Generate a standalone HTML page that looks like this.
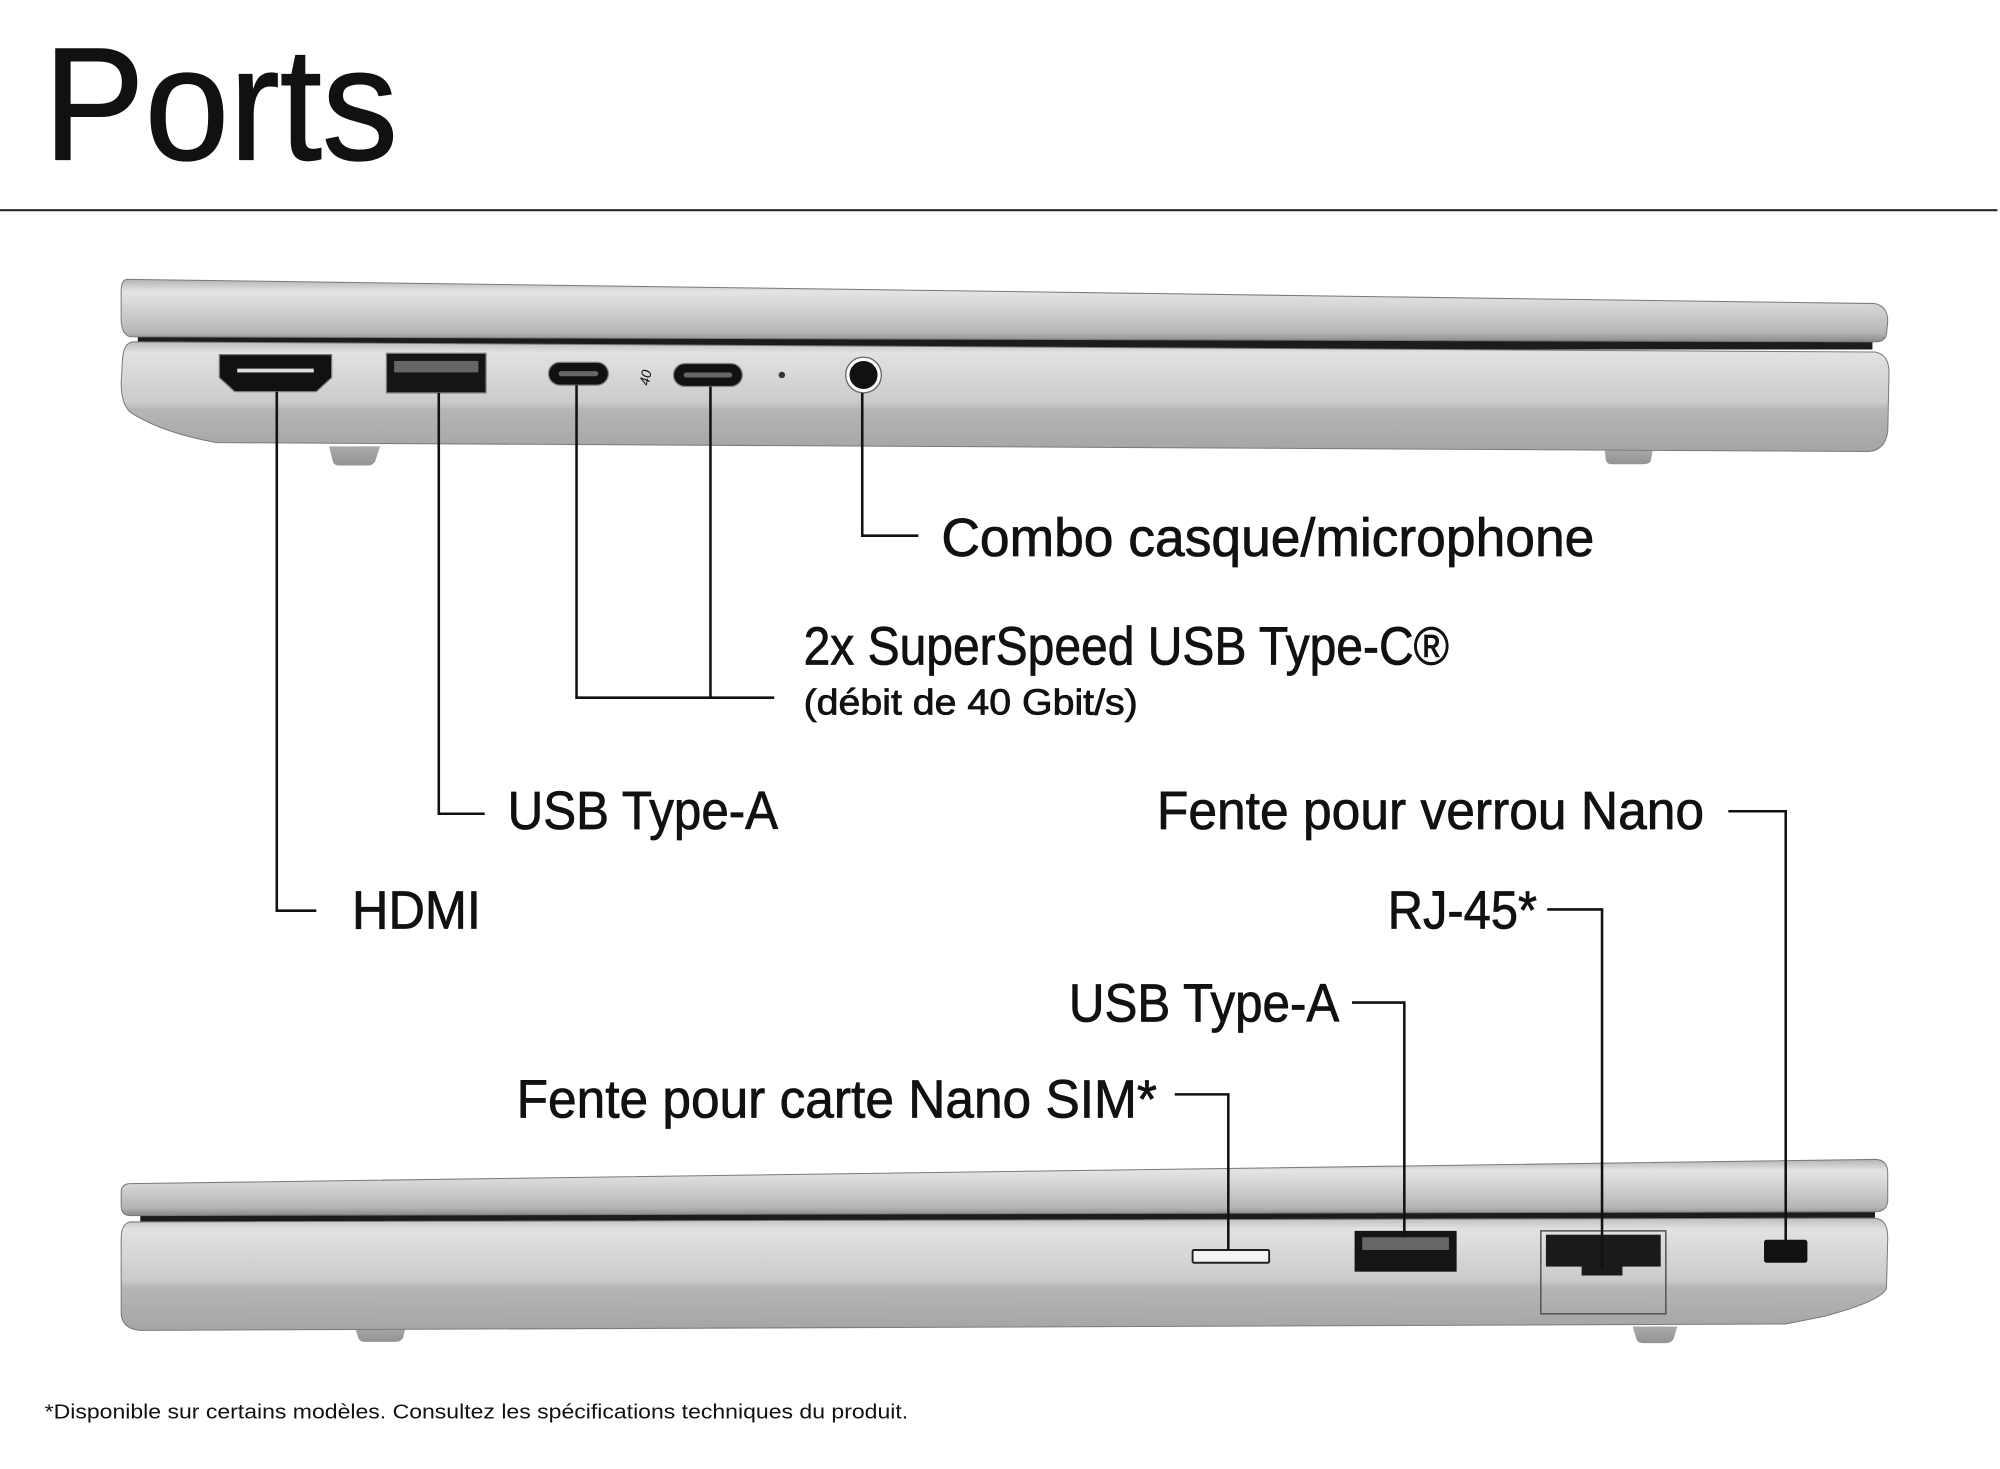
<!DOCTYPE html>
<html><head><meta charset="utf-8"><style>
html,body{margin:0;padding:0;background:#fff}
svg{display:block}
text{font-family:"Liberation Sans",sans-serif;fill:#111}
</style></head><body>
<svg width="2000" height="1469" viewBox="0 0 1568 1151.7" xmlns="http://www.w3.org/2000/svg">
<defs>
<linearGradient id="lid" x1="0" y1="0" x2="0" y2="1">
<stop offset="0" stop-color="#b4b4b4"/><stop offset="0.2" stop-color="#e4e4e4"/><stop offset="0.55" stop-color="#cdcdcd"/><stop offset="0.85" stop-color="#b6b6b6"/><stop offset="1" stop-color="#8a8a8a"/></linearGradient>
<linearGradient id="base" x1="0" y1="0" x2="0" y2="1">
<stop offset="0" stop-color="#bdbdbd"/><stop offset="0.1" stop-color="#e2e2e2"/><stop offset="0.55" stop-color="#cbcbcb"/><stop offset="0.62" stop-color="#b5b5b5"/><stop offset="1" stop-color="#a5a5a5"/></linearGradient>
<linearGradient id="foot" x1="0" y1="0" x2="0" y2="1"><stop offset="0" stop-color="#aaa"/><stop offset="1" stop-color="#939393"/></linearGradient>
</defs>
<rect width="1568" height="1152" fill="#fff"/>
<text x="34" y="125" font-size="126" textLength="278" lengthAdjust="spacingAndGlyphs" stroke="#111" stroke-width="1">Ports</text>
<rect x="0" y="164" width="1566" height="1.6" fill="#222"/>

<!-- top laptop -->
<g>
<path d="M258 350 L298 350 L294 362 Q292 365 288 365 L266 365 Q262 365 261 362 Z" fill="url(#foot)"/>
<path d="M1258 352 L1296 352 L1294 362 Q1292 364 1288 364 L1264 364 Q1260 364 1259 361 Z" fill="url(#foot)"/>
<rect x="108" y="262" width="1360" height="12" fill="#1c1c1c"/>
<path d="M105 268 L1470 276 Q1481 278 1481 292 L1480 338 Q1478 353 1465 354 L170 347 Q130 340 105 325 Q95 320 95 300 L96 282 Q97 268 105 268 Z" fill="url(#base)" stroke="#7a7a7a" stroke-width="0.8"/>
<path d="M100 219 L1470 238 Q1480 240 1480 252 L1479 262 Q1478 268 1470 268 L102 264 Q95 262 95 250 L95 228 Q95 219 100 219 Z" fill="url(#lid)" stroke="#7a7a7a" stroke-width="0.8"/>
<path d="M172 278 L260 278 L260 296 L248 307 L184 307 L172 296 Z" fill="#111" stroke="#777" stroke-width="1"/>
<rect x="186" y="289" width="60" height="3" fill="#ddd"/>
<rect x="303" y="277" width="78" height="31" fill="#151515" stroke="#777" stroke-width="1"/>
<rect x="309" y="283" width="66" height="9" fill="#666"/>
<rect x="430" y="284" width="47" height="18" rx="9" fill="#111" stroke="#888"/>
<rect x="438" y="291" width="31" height="4" rx="2" fill="#666"/>
<text x="498" y="300" font-size="11" font-style="italic" fill="#555" transform="rotate(-80 505 295)">40</text>
<rect x="528" y="285" width="54" height="18" rx="9" fill="#111" stroke="#888"/>
<rect x="536" y="292" width="38" height="4" rx="2" fill="#666"/>
<circle cx="613" cy="294" r="2.5" fill="#333"/>
<circle cx="677" cy="294" r="14" fill="#fafafa" stroke="#666"/>
<circle cx="677" cy="294" r="11" fill="#111"/>
</g>

<!-- bottom laptop -->
<g>
<path d="M278 1040 L318 1040 L316 1049 Q314 1052 310 1052 L286 1052 Q282 1052 281 1049 Z" fill="url(#foot)"/>
<path d="M1280 1040 L1315 1040 L1312 1050 Q1310 1053 1306 1053 L1288 1053 Q1284 1053 1283 1050 Z" fill="url(#foot)"/>
<rect x="110" y="948" width="1360" height="12" fill="#1c1c1c"/>
<path d="M102 958 L1470 955 Q1480 956 1480 970 L1479 1010 Q1475 1020 1430 1032 L1400 1038 L110 1043 Q96 1042 95 1030 L95 972 Q95 959 102 958 Z" fill="url(#base)" stroke="#7a7a7a" stroke-width="0.8"/>
<path d="M102 928 L1470 909 Q1480 909 1480 920 L1480 942 Q1479 950 1470 950 L102 953 Q95 953 95 945 L95 935 Q95 928 102 928 Z" fill="url(#lid)" stroke="#7a7a7a" stroke-width="0.8"/>
<rect x="935" y="980" width="60" height="10" rx="1" fill="#f4f4f4" stroke="#222" stroke-width="1.5"/>
<rect x="1062" y="965" width="80" height="32" fill="#151515"/>
<rect x="1068" y="970" width="68" height="10" fill="#666"/>
<rect x="1208" y="965" width="98" height="65" fill="none" stroke="#555" stroke-width="1.2"/>
<rect x="1212" y="968" width="90" height="25" fill="#1a1a1a"/>
<rect x="1240" y="990" width="32" height="10" fill="#1a1a1a"/>
<rect x="1383" y="972" width="34" height="18" rx="2" fill="#111"/>
</g>

<!-- connectors -->
<g stroke="#111" stroke-width="2" fill="none">
<path d="M217 307 V714 H248"/>
<path d="M344 308 V638 H380"/>
<path d="M452 302 V547 H607 M557 303 V547"/>
<path d="M676 308 V420 H720"/>
<path d="M1355 636 H1400 V975"/>
<path d="M1213 713 H1256 V995"/>
<path d="M1060 786 H1101 V970"/>
<path d="M921 858 H963 V980"/>
</g>

<!-- labels -->
<g stroke="#111" stroke-width="0.6">
<text x="738" y="436" font-size="42" textLength="512" lengthAdjust="spacingAndGlyphs">Combo casque/microphone</text>
<text x="630" y="521" font-size="42" textLength="506" lengthAdjust="spacingAndGlyphs">2x SuperSpeed USB Type-C®</text>
<text x="630" y="560" font-size="28" textLength="262" lengthAdjust="spacingAndGlyphs">(débit de 40 Gbit/s)</text>
<text x="398" y="650" font-size="42" textLength="212" lengthAdjust="spacingAndGlyphs">USB Type-A</text>
<text x="276" y="728" font-size="42" textLength="101" lengthAdjust="spacingAndGlyphs">HDMI</text>
<text x="907" y="650" font-size="42" textLength="429" lengthAdjust="spacingAndGlyphs">Fente pour verrou Nano</text>
<text x="1088" y="728" font-size="42" textLength="117" lengthAdjust="spacingAndGlyphs">RJ-45*</text>
<text x="838" y="801" font-size="42" textLength="212" lengthAdjust="spacingAndGlyphs">USB Type-A</text>
<text x="405" y="876" font-size="42" textLength="502" lengthAdjust="spacingAndGlyphs">Fente pour carte Nano SIM*</text>
</g>

<text x="35" y="1112" font-size="16" textLength="677" lengthAdjust="spacingAndGlyphs">*Disponible sur certains modèles. Consultez les spécifications techniques du produit.</text>
</svg>
</body></html>
